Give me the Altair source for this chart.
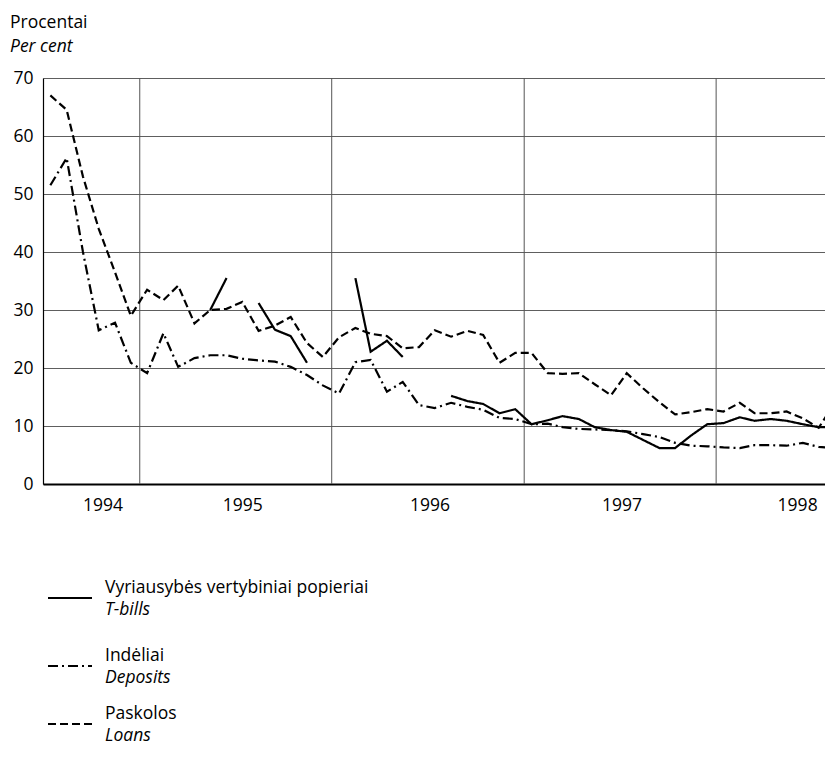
import altair as alt
import pandas as pd

# ---- data (monthly, mid-month, July 1994 - August 1998) ----
start_year, start_month, n_months = 1994, 7, 50
months = []
for i in range(n_months):
    y = start_year + (start_month - 1 + i) // 12
    m = (start_month - 1 + i) % 12 + 1
    months.append(f"{y}-{m:02d}-15")

tbills = [None, None, None, None, None, None, None, None, None, None,
          30.0, 35.5, None, 31.2, 26.6, 25.5, 20.9, None, None, 35.5,
          22.8, 24.7, 21.9, None, None, 15.2, 14.3, 13.8, 12.2, 12.9,
          10.3, 11.0, 11.7, 11.2, 9.8, 9.3, 9.0, 7.6, 6.2, 6.2,
          8.4, 10.3, 10.5, 11.5, 10.9, 11.2, 10.9, 10.3, 9.8, 9.8]

deposits = [51.5, 56.2, 40.0, 26.5, 27.8, 20.9, 19.1, 26.0, 20.2, 21.7,
            22.2, 22.2, 21.6, 21.3, 21.1, 20.2, 18.8, 17.0, 15.6, 21.0,
            21.4, 15.9, 17.6, 13.6, 13.1, 14.0, 13.3, 12.8, 11.4, 11.2,
            10.3, 10.4, 9.8, 9.5, 9.4, 9.3, 9.1, 8.6, 8.1, 7.1,
            6.6, 6.5, 6.3, 6.2, 6.7, 6.7, 6.6, 7.1, 6.4, 6.2]

loans = [67.0, 64.5, 53.0, 44.0, 36.5, 29.0, 33.5, 31.7, 34.2, 27.7,
         30.0, 30.2, 31.4, 26.4, 27.3, 28.8, 24.3, 21.9, 25.3, 26.9,
         25.9, 25.5, 23.4, 23.6, 26.5, 25.4, 26.4, 25.7, 20.9, 22.6,
         22.6, 19.1, 19.0, 19.1, 17.2, 15.3, 19.1, 16.5, 14.1, 12.0,
         12.4, 12.9, 12.5, 14.0, 12.2, 12.2, 12.5, 11.3, 9.7, 14.0]

series_names = ["T-bills", "Deposits", "Loans"]
legend_lt = ["Vyriausybės vertybiniai popieriai", "Indėliai", "Paskolos"]
legend_en = ["T-bills", "Deposits", "Loans"]
year_lines = ["1995-01-01", "1996-01-01", "1997-01-01", "1998-01-01"]
y_ticks = [0, 10, 20, 30, 40, 50, 60, 70]

# ---- long table with path segments (gaps break the line) ----
rows = []
for name, vals in zip(series_names, [tbills, deposits, loans]):
    seg = 0
    prev_none = True
    for d, v in zip(months, vals):
        if v is None:
            prev_none = True
            continue
        if prev_none:
            seg += 1
            prev_none = False
        rows.append({"date": d, "value": v, "series": name, "seg": f"{name}-{seg}"})
df = pd.DataFrame(rows)

leg = pd.DataFrame({"row": [0, 1, 2], "series": series_names,
                    "lt": legend_lt, "en": legend_en})
vl = pd.DataFrame({"date": year_lines})

FONT = "Open Sans"
FS = 17.5
dash_scale = alt.Scale(domain=series_names, range=[[1, 0], [10, 4, 2, 4], [8, 4]])

x_enc = alt.X(
    "date:T",
    scale=alt.Scale(domain=["1994-07-01", "1998-07-27"]),
    axis=alt.Axis(
        title=None, grid=False, ticks=False,
        values=[alt.DateTime(year=1994, month=10, date=22),
                alt.DateTime(year=1995, month=7, date=15),
                alt.DateTime(year=1996, month=7, date=5),
                alt.DateTime(year=1997, month=7, date=5),
                alt.DateTime(year=1998, month=6, date=4)],
        labelExpr="timeFormat(datum.value, '%Y')",
        labelFontSize=FS, labelFont=FONT, labelColor="black",
        labelPadding=12, labelFlush=False, labelOverlap=False,
        domainColor="black", domainWidth=2.2,
    ),
)

lines = alt.Chart(df).mark_line(strokeWidth=2.2, color="black", clip=True).encode(
    x=x_enc,
    y=alt.Y("value:Q", scale=alt.Scale(domain=[0, 70], nice=False),
            axis=alt.Axis(title=None, values=y_ticks, ticks=False,
                          labelFontSize=FS, labelFont=FONT, labelColor="black",
                          labelPadding=10, domainColor="black", domainWidth=1.2,
                          grid=True, gridColor="#5e5e5e", gridWidth=1)),
    strokeDash=alt.StrokeDash("series:N", scale=dash_scale, legend=None),
    detail="seg:N",
)

vrules = alt.Chart(vl).mark_rule(color="#555555", strokeWidth=1).encode(
    x=alt.X("date:T")
)

main = alt.layer(vrules, lines)

leg_y = alt.Y("row:Q", scale=alt.Scale(domain=[0, 1, 2], range=[520, 588, 646],
                                       zero=False, nice=False),
              axis=None)

leg_rules = alt.Chart(leg).mark_rule(strokeWidth=2.2, color="black").encode(
    x=alt.value(5), x2=alt.value(49), y=leg_y,
    strokeDash=alt.StrokeDash("series:N", scale=dash_scale, legend=None),
)
leg_lt = alt.Chart(leg).mark_text(align="left", baseline="middle", dy=-10,
                                  font=FONT, fontSize=FS, color="black").encode(
    x=alt.value(62), y=leg_y, text="lt:N")
leg_en = alt.Chart(leg).mark_text(align="left", baseline="middle", dy=12,
                                  font=FONT, fontSize=FS, fontStyle="italic",
                                  color="black").encode(
    x=alt.value(62), y=leg_y, text="en:N")

legend = alt.layer(leg_rules, leg_lt, leg_en)

chart = alt.layer(main, legend).resolve_scale(y="independent").properties(
    width=782, height=406,
    autosize=alt.AutoSizeParams(type="none"),
    padding={"left": 35, "top": 70, "right": 0, "bottom": 268},
    title=alt.Title("Procentai", subtitle="Per cent", anchor="start", frame="group",
                    dx=-33, offset=14, font=FONT, fontSize=FS, fontWeight="normal",
                    color="black", subtitleFont=FONT, subtitleFontSize=FS,
                    subtitleFontStyle="italic", subtitleColor="black",
                    subtitlePadding=6),
).configure_view(stroke=None).configure(background="white")

chart.save("out.html", embed_options={"renderer": "svg", "actions": False})
